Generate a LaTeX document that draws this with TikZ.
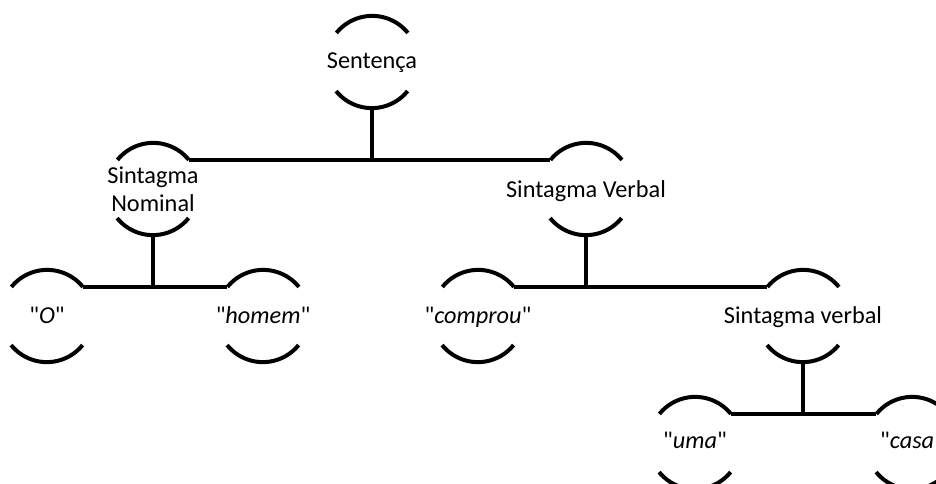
\documentclass[tikz,border=0pt]{standalone}
\usepackage{fontspec}
\setmainfont{Carlito}[Ligatures=TeXOff]
\usetikzlibrary{calc}
\begin{document}
\begin{tikzpicture}[x=1pt,y=1pt,
  tn/.style={circle, minimum size=92pt, inner sep=0pt},
  txt/.style={font=\fontsize{24.3}{28.5}\selectfont, align=center, inner sep=0pt},
  lbl/.style={txt, anchor=base},
  bracket/.style={line width=4pt},
  link/.style={line width=4pt}]
\useasboundingbox (0,0) rectangle (936,-484);

% tree nodes (invisible circles carrying the bracket arcs)
\node[tn] (sent)    at (372,-62)  {};
\node[tn] (sn)      at (153,-189) {};
\node[tn] (sv)      at (586,-189) {};
\node[tn] (o)       at (47,-316)  {};
\node[tn] (homem)   at (263,-316) {};
\node[tn] (comprou) at (478,-316) {};
\node[tn] (svb)     at (803,-316) {};
\node[tn] (uma)     at (695,-443) {};
\node[tn] (casa)    at (912,-443) {};

% labels
\node[lbl] (sent-t)    at ($(sent)+(0,-7)$) {Sentença};
\node[txt] (sn-t)      at (sn)   {Sintagma\\Nominal};
\node[lbl] (sv-t)      at ($(sv)+(0,-8)$) {Sintagma Verbal};
\node[lbl] (o-t)       at ($(o)+(0,-7)$) {"\textit{O}"};
\node[lbl] (homem-t)   at ($(homem)+(0,-7)$) {"\textit{homem}"};
\node[lbl] (comprou-t) at ($(comprou)+(0,-7)$) {"\textit{comprou}"};
\node[lbl] (svb-t)     at ($(svb)+(0,-7)$) {Sintagma verbal};
\node[lbl] (uma-t)     at ($(uma)+(0,-5)$) {"\textit{uma}"};
\node[lbl] (casa-t)    at ($(casa)+(0,-5)$) {"\textit{casa}"};

% bracket arcs above and below each node
\foreach \n in {sent,sn,sv,o,homem,comprou,svb,uma,casa} {
  \draw[bracket] (\n.39) arc[start angle=39, end angle=141, radius=46pt];
  \draw[bracket] (\n.219) arc[start angle=219, end angle=321, radius=46pt];
}

% connectors
\draw[link] (sent.south) -- (sent.south |- sn.39);
\draw[link] (sn.39) -- (sv.141);
\draw[link] (sn.south) -- (sn.south |- o.39);
\draw[link] (o.39) -- (homem.141);
\draw[link] (sv.south) -- (sv.south |- comprou.39);
\draw[link] (comprou.39) -- (svb.141);
\draw[link] (svb.south) -- (svb.south |- uma.39);
\draw[link] (uma.39) -- (casa.141);
\end{tikzpicture}
\end{document}
